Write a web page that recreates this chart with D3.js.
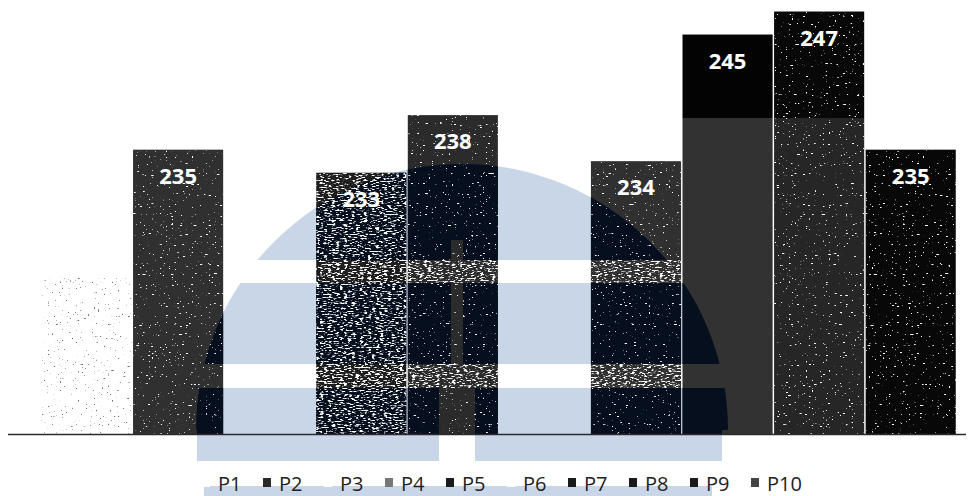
<!DOCTYPE html>
<html><head><meta charset="utf-8">
<script src="https://cdn.jsdelivr.net/npm/d3@7"></script>
<style>
html,body{margin:0;padding:0;background:#fff;}
svg{display:block;}
</style></head>
<body>
<svg id="chart" width="970" height="496"></svg>
<script>
// ---- data ----
const categories = ["P1","P2","P3","P4","P5","P6","P7","P8","P9","P10"];
const values     = [224, 235, 227, 233, 238, 227, 234, 245, 247, 235];
const barColors  = ["white","#303030","white","#1e1e1e","#2b2b2b","white","#303030","scanA","scanB","#080808"];
const legendColors = ["white","#2a2a2a","white","#777777","#1a1a1a","white","#1a1a1a","#1a1a1a","#1a1a1a","#444444"];
const noiseLevel = [0, 1, 0, 3, 1, 0, 1, 0, 1, 1];   // scan texture strength per bar
const yDomain = [210.3, 248];

const W = 970, H = 496;
const svg = d3.select("#chart");
const defs = svg.append("defs");

const x = d3.scaleBand().domain(categories).range([40.75, 956.5]).paddingInner(0.016).paddingOuter(0.008);
const y = d3.scaleLinear().domain(yDomain).range([434, 0]);
const data = categories.map((c,i)=>({c, v: values[i], col: barColors[i], noise: noiseLevel[i], i}));
const isWhite = d => d.col === "white";

// scanned darker top band on two bars
function scanGrad(id, top, bottom){
  const g = defs.append("linearGradient").attr("id", id).attr("gradientUnits","userSpaceOnUse")
    .attr("x1",0).attr("x2",0).attr("y1",0).attr("y2",H);
  g.append("stop").attr("offset", 0).attr("stop-color", top);
  g.append("stop").attr("offset", 118/H).attr("stop-color", top);
  g.append("stop").attr("offset", 118.5/H).attr("stop-color", bottom);
  g.append("stop").attr("offset", 1).attr("stop-color", bottom);
}
scanGrad("scanA", "#030303", "#323232");
scanGrad("scanB", "#080808", "#262626");
const fillOf = d => isWhite(d) ? "none" : (d.col.startsWith("scan") ? `url(#${d.col})` : d.col);

// ---- filters for scan texture ----
function speckFilter(id, freq, oct, slope, offset, seed, dark){
  const f = defs.append("filter").attr("id", id).attr("x",0).attr("y",0).attr("width",1).attr("height",1);
  f.append("feTurbulence").attr("type","fractalNoise").attr("baseFrequency",freq).attr("numOctaves",oct).attr("seed",seed).attr("result","n");
  const c = dark ? "0 0 0 0 0.15  0 0 0 0 0.15  0 0 0 0 0.15 " : "0 0 0 0 1  0 0 0 0 1  0 0 0 0 1 ";
  f.append("feColorMatrix").attr("in","n").attr("type","matrix").attr("values", c + slope + " 0 0 0 " + offset).attr("result","s");
  f.append("feComposite").attr("in","s").attr("in2","SourceAlpha").attr("operator","in");
}
speckFilter("sp1", "0.35 0.9", 1, 22, -15.2, 3, false);
speckFilter("sp2", "0.3 0.8", 2, 14, -8.8, 7, false);
speckFilter("sp3", "0.25 0.7", 2, 7, -3.7, 11, false);
speckFilter("spd", "0.5 0.5", 1, 22, -15.6, 5, true);
const filterOf = d => isWhite(d) ? (d.i===0 ? "url(#spd)" : null)
                   : d.noise===0 ? null : `url(#sp${d.noise})`;

// ---- watermark mask ----
const wm = {cx: 462, cy: 430, r: 266, bottom: 461, left: 197, right: 722};
const stripes = [[260, 23], [364, 24]];
const mask = defs.append("mask").attr("id","wmMask").attr("maskUnits","userSpaceOnUse")
  .attr("x",0).attr("y",0).attr("width",W).attr("height",H);
mask.append("rect").attr("width",W).attr("height",H).attr("fill","black");
mask.append("circle").attr("cx",wm.cx).attr("cy",wm.cy).attr("r",wm.r).attr("fill","white");
mask.append("rect").attr("x",0).attr("y",wm.cy).attr("width",W).attr("height",H-wm.cy).attr("fill","black");
mask.append("rect").attr("x",wm.left).attr("y",wm.cy).attr("width",wm.right-wm.left).attr("height",wm.bottom-wm.cy).attr("fill","white");
mask.append("rect").attr("x",204).attr("y",486).attr("width",508).attr("height",H-486).attr("fill","white");
stripes.forEach(([sy, sh]) => mask.append("rect").attr("x",0).attr("y",sy).attr("width",W).attr("height",sh).attr("fill","black"));
mask.append("rect").attr("x",451).attr("y",240).attr("width",12).attr("height",150).attr("fill","black");
mask.append("rect").attr("x",439).attr("y",388).attr("width",36).attr("height",75).attr("fill","black");

// watermark base (light blue)
svg.append("rect").attr("width",W).attr("height",H).attr("fill","#c9d6e8").attr("mask","url(#wmMask)");

// ---- bars ----
const barH = d => y(yDomain[0]) - y(d.v);
svg.append("g").selectAll("rect").data(data).join("rect")
  .attr("x", d=>x(d.c)).attr("width", x.bandwidth())
  .attr("y", d=>y(d.v)).attr("height", barH)
  .attr("fill", fillOf);

// navy tint where the watermark lies behind dark bars
const cp = defs.append("clipPath").attr("id","barClip");
cp.selectAll("rect").data(data.filter(d=>!isWhite(d))).join("rect")
  .attr("x", d=>x(d.c)).attr("width", x.bandwidth())
  .attr("y", d=>y(d.v)).attr("height", barH);
const tint = svg.append("g").attr("clip-path","url(#barClip)");
tint.append("rect").attr("width",W).attr("height",H).attr("fill","#060f1e").attr("mask","url(#wmMask)");
// lighter scan streaks where the watermark's white stripes cross the middle bars
const stripeClip = defs.append("clipPath").attr("id","logoSpan");
stripeClip.append("rect").attr("x",310).attr("y",0).attr("width",372).attr("height",H);
tint.append("g").attr("clip-path","url(#logoSpan)").selectAll("rect").data(stripes).join("rect")
  .attr("x",0).attr("width",W).attr("y",s=>s[0]).attr("height",s=>s[1])
  .attr("fill","#000").attr("filter","url(#sp3)");

// scan specks
svg.append("g").selectAll("rect").data(data.filter(d=>filterOf(d))).join("rect")
  .attr("x", d=>x(d.c)).attr("width", x.bandwidth())
  .attr("y", d=>y(d.v)).attr("height", barH)
  .attr("fill","#000")
  .attr("filter", filterOf);

// axis line
svg.append("line").attr("x1",8).attr("x2",966).attr("y1",y(yDomain[0])+0.5).attr("y2",y(yDomain[0])+0.5)
  .attr("stroke","#2a2a2a").attr("stroke-width",1.6);

// value labels
svg.append("g").selectAll("text").data(data).join("text")
  .attr("x", d=>x(d.c)+x.bandwidth()/2)
  .attr("y", d=>y(d.v)+34)
  .attr("text-anchor","middle")
  .attr("font-family","'Open Sans', 'Noto Sans', sans-serif")
  .attr("font-weight","bold")
  .attr("font-size",22)
  .attr("fill","#ffffff")
  .text(d=>d.v);

// ---- legend ----
const lx = d3.scaleBand().domain(categories).range([200, 810]);
const items = svg.append("g").selectAll("g").data(data).join("g").attr("transform", d=>`translate(${lx(d.c)},0)`);
items.append("rect").attr("x",2).attr("y",478).attr("width",8).attr("height",9)
  .attr("fill", d=>legendColors[d.i]);
items.append("text").attr("x",18).attr("y",490.5)
  .attr("font-family","'Liberation Sans Narrow', 'Open Sans', sans-serif")
  .attr("font-size",20).attr("fill","#222")
  .text(d=>d.c);
</script>
</body></html>
